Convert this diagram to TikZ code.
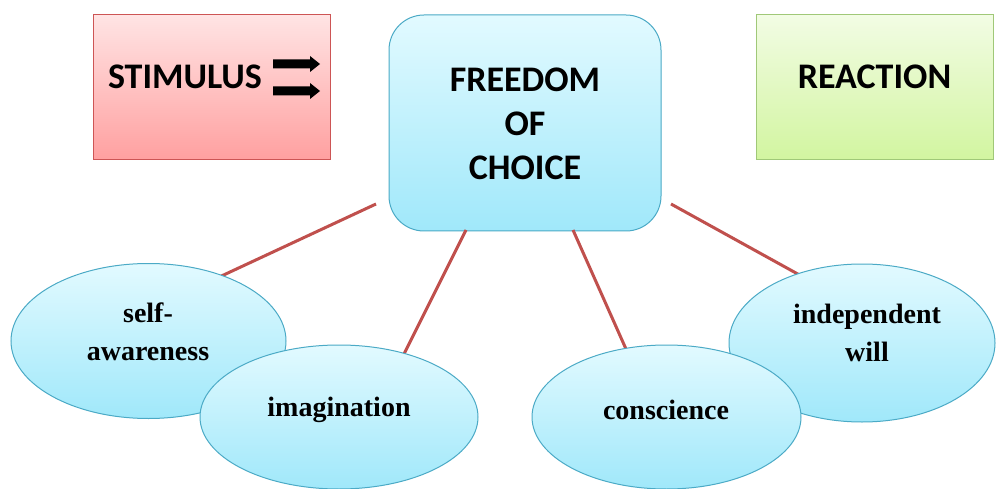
\documentclass[tikz,border=0pt]{standalone}
\usepackage{fontspec}
\newfontfamily\boxfont{Carlito}
\newfontfamily\ellfont{Liberation Serif}
\usetikzlibrary{shapes.geometric}
\definecolor{pinkT}{RGB}{255,228,228}
\definecolor{pinkB}{RGB}{255,160,160}
\definecolor{pinkD}{RGB}{205,85,85}
\definecolor{blueT}{RGB}{226,250,255}
\definecolor{blueB}{RGB}{160,232,250}
\definecolor{blueD}{RGB}{75,170,198}
\definecolor{greenT}{RGB}{242,252,228}
\definecolor{greenB}{RGB}{210,245,160}
\definecolor{greenD}{RGB}{160,200,120}
\definecolor{linkred}{RGB}{192,80,77}
\tikzset{
  topbox/.style={rectangle, line width=1pt, inner sep=0pt},
  boxtext/.style={inner sep=0pt, font=\boxfont\bfseries\fontsize{36}{44}\selectfont, align=center},
  bubble/.style={ellipse, draw=blueD, line width=1pt, top color=blueT, bottom color=blueB, inner sep=0pt},
  bubbletext/.style={inner sep=0pt, font=\ellfont\bfseries\fontsize{28}{38}\selectfont, align=center},
  link/.style={draw=linkred, line width=3pt},
}
\begin{document}
\begin{tikzpicture}[x=1pt,y=-1pt]
\useasboundingbox (0,0) rectangle (996,489);
\fill[white] (0,0) rectangle (996,489);
% top boxes
\node[topbox, draw=pinkD, top color=pinkT, bottom color=pinkB, minimum width=237pt, minimum height=145pt] (stim) at (211.5,87.5) {};
\node[boxtext] (stimtext) at (185,77) {STIMULUS};
\fill[black] (273,59.5) -- (310,59.5) -- (310,56) -- (320,64) -- (310,72) -- (310,68.5) -- (273,68.5) -- cycle;
\fill[black] (273,86.5) -- (310,86.5) -- (310,83) -- (320,91) -- (310,99) -- (310,95.5) -- (273,95.5) -- cycle;
\node[topbox, draw=greenD, top color=greenT, bottom color=greenB, minimum width=237pt, minimum height=145pt] (react) at (874.5,87.5) {};
\node[boxtext] (reacttext) at (874.5,77) {REACTION};
\node[topbox, draw=blueD, top color=blueT, bottom color=blueB, rounded corners=35pt, minimum width=272pt, minimum height=216pt] (free) at (525,123) {};
\node[boxtext] (freetext) at (525,124) {FREEDOM\\OF\\CHOICE};
% connectors
\coordinate (f1) at (376,204); \coordinate (e1) at (215,279);
\coordinate (f2) at (466,230); \coordinate (e2) at (400,362);
\coordinate (f3) at (573,230); \coordinate (e3) at (630,358);
\coordinate (f4) at (671,204); \coordinate (e4) at (805,278);
\draw[link] (f1) -- (e1);
\draw[link] (f2) -- (e2);
\draw[link] (f3) -- (e3);
\draw[link] (f4) -- (e4);
% ellipses
\node[bubble, minimum width=275pt, minimum height=155pt] (self) at (148.5,341) {};
\node[bubbletext] (selftext) at (148,332) {self-\\awareness};
\node[bubble, minimum width=278pt, minimum height=144pt] (imag) at (339,417) {};
\node[bubbletext] (imagtext) at (339,410) {imagination};
\node[bubble, minimum width=266pt, minimum height=158pt] (indep) at (862,343) {};
\node[bubbletext] (indeptext) at (867,333) {independent\\will};
\node[bubble, minimum width=269pt, minimum height=144pt] (consc) at (666.5,417) {};
\node[bubbletext] (consctext) at (666,410) {conscience};
\end{tikzpicture}
\end{document}
